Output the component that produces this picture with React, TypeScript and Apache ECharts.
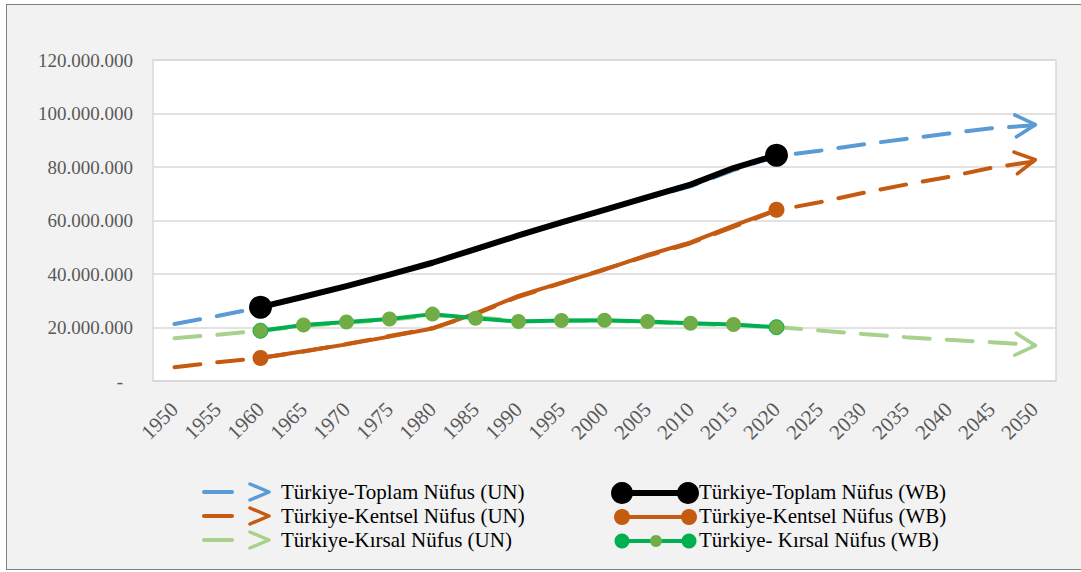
import React, { useEffect, useRef } from "react";
import * as echarts from "echarts";

const years = ["1950","1955","1960","1965","1970","1975","1980","1985","1990","1995","2000","2005","2010","2015","2020","2025","2030","2035","2040","2045","2050"];

// millions
const unTotal = [21.3, 24.3, 27.6, 31.3, 35.4, 39.6, 44.0, 49.0, 54.2, 59.0, 63.8, 68.4, 72.8, 78.8, 84.1, 86.1, 88.4, 90.5, 92.5, 94.5, 95.6];
const unUrban = [5.1, 7.0, 8.6, 11.0, 13.8, 16.8, 19.8, 25.0, 31.5, 36.6, 41.8, 46.8, 51.5, 57.6, 63.8, 66.8, 70.3, 73.4, 76.3, 79.7, 82.1];
const unRural = [16.0, 17.3, 18.8, 20.5, 21.8, 22.9, 24.5, 23.8, 22.5, 22.4, 22.6, 22.0, 21.3, 20.9, 20.2, 18.9, 17.6, 16.4, 15.4, 14.5, 13.5];
const wbTotal = [null, null, 27.6, 31.5, 35.5, 39.8, 44.2, 49.3, 54.4, 59.3, 64.0, 68.7, 73.4, 79.6, 84.4, null, null, null, null, null, null];
const wbUrban = [null, null, 8.6, 11.1, 13.7, 16.6, 19.6, 25.3, 31.8, 36.8, 41.6, 47.1, 51.8, 58.1, 64.0, null, null, null, null, null, null];
const wbRural = [null, null, 18.8, 20.9, 22.1, 23.2, 25.0, 23.5, 22.2, 22.6, 22.7, 22.2, 21.6, 21.1, 20.1, null, null, null, null, null, null];

const yTicks = [0, 20000000, 40000000, 60000000, 80000000, 100000000, 120000000];

const names = {
  unTotal: "Türkiye-Toplam Nüfus (UN)",
  unUrban: "Türkiye-Kentsel Nüfus (UN)",
  unRural: "Türkiye-Kırsal Nüfus (UN)",
  wbTotal: "Türkiye-Toplam Nüfus (WB)",
  wbUrban: "Türkiye-Kentsel Nüfus (WB)",
  wbRural: "Türkiye- Kırsal Nüfus (WB)",
};

const C = {
  blue: "#5b9bd5",
  orange: "#c55a11",
  lightGreen: "#a9d18e",
  black: "#000000",
  green: "#00b050",
  olive: "#70ad47",
};

const FONT = "Liberation Serif";
const ARROW = "path://M0,0L20,11L0,22";

function fmt(v: number) {
  if (v === 0) return "{dash|-}";
  return String(Math.round(v)).replace(/\B(?=(\d{3})+(?!\d))/g, ".");
}

function unSeries(name: string, vals: number[], color: string, rot: number) {
  const last = vals.length - 1;
  return {
    name,
    type: "line",
    showAllSymbol: true,
    symbol: "none",
    z: 2,
    lineStyle: { color, width: 4, type: [26, 17], cap: "round" },
    itemStyle: { color },
    data: vals.map((v, i) =>
      i === last
        ? {
            value: v * 1e6,
            symbol: ARROW,
            symbolSize: [20, 22],
            symbolOffset: [-9, 0],
            symbolRotate: rot,
            itemStyle: { color: "transparent", borderColor: color, borderWidth: 3.5, borderCap: "round", borderJoin: "round" },
          }
        : { value: v * 1e6 }
    ),
  };
}

function wbSeries(name: string, vals: (number | null)[], color: string, width: number, markerColor: string, size: number, allMarkers: boolean) {
  const first = vals.findIndex((v) => v !== null);
  let lastIdx = -1;
  vals.forEach((v, i) => { if (v !== null) lastIdx = i; });
  return {
    name,
    type: "line",
    showAllSymbol: true,
    symbol: "circle",
    symbolSize: size,
    z: 3,
    lineStyle: { color, width, cap: "round", join: "round" },
    itemStyle: { color: markerColor, borderWidth: 0 },
    data: vals.map((v, i) => {
      if (v === null) return null;
      const isEnd = i === first || i === lastIdx;
      if (!allMarkers && !isEnd) return { value: v * 1e6, symbol: "none" };
      if (allMarkers && isEnd) return { value: v * 1e6, itemStyle: { color: markerColor, borderColor: color, borderWidth: 1 } };
      return { value: v * 1e6 };
    }),
  };
}

function txt(x: number, y: number, text: string) {
  return {
    type: "text",
    x,
    y,
    style: { text, fill: "#000", fontSize: 21, fontFamily: FONT, verticalAlign: "middle", align: "left" },
  };
}

function legendGraphics() {
  const els: any[] = [];
  const rows = [492, 516, 540];
  const unCols = [C.blue, C.orange, C.lightGreen];
  const unNames = [names.unTotal, names.unUrban, names.unRural];
  rows.forEach((y, i) => {
    els.push({
      type: "line",
      shape: { x1: 204, y1: y, x2: 232, y2: y },
      style: { stroke: unCols[i], lineWidth: 4, lineCap: "round" },
    });
    els.push({
      type: "polyline",
      shape: { points: [[250, y - 8], [269, y], [250, y + 8]] },
      style: { stroke: unCols[i], lineWidth: 3.5, fill: "none", lineCap: "round", lineJoin: "round" },
    });
    els.push(txt(281, y, unNames[i]));
  });
  const y0 = rows[0] + 1;
  els.push({ type: "line", shape: { x1: 622, y1: y0, x2: 688, y2: y0 }, style: { stroke: C.black, lineWidth: 6 } });
  els.push({ type: "circle", shape: { cx: 622, cy: y0, r: 11 }, style: { fill: C.black } });
  els.push({ type: "circle", shape: { cx: 688, cy: y0, r: 11 }, style: { fill: C.black } });
  const y1 = rows[1] + 1;
  els.push({ type: "line", shape: { x1: 622, y1: y1, x2: 689, y2: y1 }, style: { stroke: C.orange, lineWidth: 4 } });
  els.push({ type: "circle", shape: { cx: 622, cy: y1, r: 8 }, style: { fill: C.orange } });
  els.push({ type: "circle", shape: { cx: 689, cy: y1, r: 8 }, style: { fill: C.orange } });
  const y2 = rows[2] + 1;
  els.push({ type: "line", shape: { x1: 622, y1: y2, x2: 689, y2: y2 }, style: { stroke: C.green, lineWidth: 4 } });
  els.push({ type: "circle", shape: { cx: 622, cy: y2, r: 7.5 }, style: { fill: C.green } });
  els.push({ type: "circle", shape: { cx: 656, cy: y2, r: 6 }, style: { fill: C.olive } });
  els.push({ type: "circle", shape: { cx: 689, cy: y2, r: 7.5 }, style: { fill: C.green } });
  const wbNames = [names.wbTotal, names.wbUrban, names.wbRural];
  rows.forEach((y, i) => els.push(txt(699, y, wbNames[i])));
  return els;
}

export default function App() {
  const ref = useRef<HTMLDivElement>(null);
  useEffect(() => {
    if (!ref.current) return;
    const chart = echarts.init(ref.current, undefined, { renderer: "svg" });
    chart.setOption({
      animation: false,
      textStyle: { fontFamily: FONT },
      grid: {
        left: 153,
        right: 25,
        top: 60,
        bottom: 191,
        show: true,
        backgroundColor: "#ffffff",
        borderColor: "#d9d9d9",
        borderWidth: 1.5,
      },
      legend: { show: false },
      xAxis: {
        type: "category",
        data: years,
        boundaryGap: true,
        axisLine: { show: true, lineStyle: { color: "#d9d9d9", width: 1.5 } },
        axisTick: { show: false },
        axisLabel: { interval: 0, rotate: 45, color: "#595959", fontSize: 21, fontFamily: FONT, margin: 25 },
      },
      yAxis: {
        type: "value",
        min: yTicks[0],
        max: yTicks[yTicks.length - 1],
        interval: yTicks[1] - yTicks[0],
        axisLine: { show: false },
        axisTick: { show: false },
        splitLine: { lineStyle: { color: "#d9d9d9", width: 1.5 } },
        axisLabel: {
          color: "#595959",
          fontSize: 19,
          fontFamily: FONT,
          margin: 20,
          formatter: (v: number) => fmt(v),
          rich: { dash: { color: "#595959", fontSize: 19, fontFamily: FONT, padding: [0, 10, 0, 0] } },
        },
      },
      graphic: legendGraphics(),
      series: [
        unSeries(names.unTotal, unTotal, C.blue, 4),
        unSeries(names.unUrban, unUrban, C.orange, 9),
        unSeries(names.unRural, unRural, C.lightGreen, -4),
        wbSeries(names.wbTotal, wbTotal, C.black, 6, C.black, 23, false),
        wbSeries(names.wbUrban, wbUrban, C.orange, 4, C.orange, 16, false),
        wbSeries(names.wbRural, wbRural, C.green, 4, C.olive, 15, true),
      ],
    });
    return () => chart.dispose();
  }, []);
  return (
    <div style={{ position: "absolute", left: 0, top: 0, width: 1081, height: 572, overflow: "hidden", background: "#ffffff" }}>
      <div style={{ position: "absolute", left: 6, top: 4, width: 1100, height: 564, background: "#f2f2f2", border: "1.5px solid #808080" }} />
      <div ref={ref} style={{ position: "absolute", left: 0, top: 0, width: 1081, height: 572 }} />
    </div>
  );
}
